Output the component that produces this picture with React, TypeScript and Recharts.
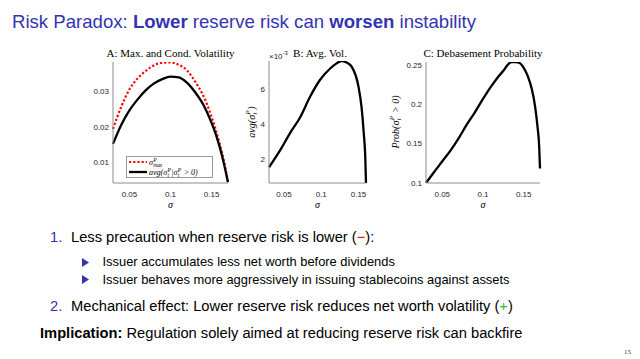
import React from "react";
import { LineChart, Line, XAxis, YAxis } from "recharts";

// panel A: max and conditional volatility
const sigmaGrid = [0.03, 0.04, 0.05, 0.06, 0.07, 0.08, 0.09, 0.1, 0.11, 0.12, 0.13, 0.14, 0.15, 0.155, 0.16, 0.165, 0.17];
const maxVol = [0.0194, 0.0256, 0.0305, 0.0336, 0.0357, 0.0373, 0.038, 0.0381, 0.0374, 0.0359, 0.0327, 0.0287, 0.0228, 0.0192, 0.0151, 0.0105, 0.0044];
const condVol = [0.0152, 0.0205, 0.0246, 0.0277, 0.0303, 0.0322, 0.0334, 0.0341, 0.0339, 0.0324, 0.0297, 0.0262, 0.0211, 0.018, 0.0142, 0.0097, 0.0044];
// panel B, in units of 1e-3
const sigmaAvg = [0.03, 0.045, 0.058, 0.072, 0.085, 0.098, 0.112, 0.12, 0.127, 0.134, 0.141, 0.15, 0.154, 0.157, 0.159, 0.16];
const avgVol = [1.55, 2.53, 3.49, 4.43, 5.58, 6.53, 7.2, 7.48, 7.63, 7.55, 7.29, 6.15, 5.0, 3.5, 2.15, 0.65];
// panel C
const sigmaProb = [0.03, 0.04, 0.05, 0.06, 0.07, 0.08, 0.09, 0.1, 0.11, 0.12, 0.125, 0.13, 0.135, 0.14, 0.145, 0.15, 0.155, 0.16, 0.164, 0.167, 0.169, 0.17];
const debaseProb = [0.1, 0.114, 0.1275, 0.141, 0.1566, 0.174, 0.1897, 0.2066, 0.2225, 0.2365, 0.2423, 0.2495, 0.2535, 0.2533, 0.2522, 0.246, 0.2355, 0.2188, 0.197, 0.171, 0.146, 0.1184];

const sigmaTicks = [0.05, 0.1, 0.15];
const volTicks = [0.01, 0.02, 0.03];
const avgTicks = [2, 4, 6];
const probTicks = [0.1, 0.15, 0.2, 0.25];

const dataA = sigmaGrid.map((s, i) => ({ s, max: maxVol[i], cond: condVol[i] }));
const dataB = sigmaAvg.map((s, i) => ({ s, avg: avgVol[i] }));
const dataC = sigmaProb.map((s, i) => ({ s, prob: debaseProb[i] }));

const BLUE = "#3333B3";
const SANS = "'Liberation Sans', Arial, sans-serif";
const SERIF = "'Liberation Serif', 'Times New Roman', serif";
const tickStyle = { fontSize: 8, fill: "#262626", fontFamily: SANS };
const AXIS = "#8c8c8c";
const YW = 40;
const PAD = 6;

// sigma with stacked super/subscript, e.g. sigma_t^P
function SubSup({ base, sup, sub }: { base: string; sup: string; sub: string }) {
  const w = Math.max(sup.length, sub.length) * 0.42;
  return (
    <span style={{ whiteSpace: "nowrap" }}>
      {base}
      <span style={{ display: "inline-block", position: "relative", width: `${w + 0.1}em`, height: "1em" }}>
        <span style={{ position: "absolute", left: "0.05em", top: "-0.38em", fontSize: "68%" }}>{sup}</span>
        <span style={{ position: "absolute", left: "0.05em", top: "0.62em", fontSize: "68%" }}>{sub}</span>
      </span>
    </span>
  );
}

function Panel(props: {
  plotLeft: number;
  plotTop: number;
  plotW: number;
  plotH: number;
  xMax: number;
  data: any[];
  yDomain: number[];
  yTicks: number[];
  children: React.ReactNode;
}) {
  const { plotLeft, plotTop, plotW, plotH, xMax, data, yDomain, yTicks, children } = props;
  return (
    <div style={{ position: "absolute", left: plotLeft - YW, top: plotTop - PAD }}>
      <LineChart
        width={YW + plotW + PAD}
        height={PAD + plotH + 22}
        data={data}
        margin={{ top: PAD, right: PAD, bottom: 0, left: 0 }}
      >
        <XAxis
          dataKey="s"
          type="number"
          domain={[0.03, xMax]}
          ticks={sigmaTicks}
          height={22}
          tick={tickStyle}
          tickLine={false}
          axisLine={{ stroke: AXIS }}
          tickFormatter={(v) => String(v)}
        />
        <YAxis
          type="number"
          domain={yDomain}
          ticks={yTicks}
          width={YW}
          tick={tickStyle}
          tickLine={false}
          tickSize={2}
          tickMargin={2}
          axisLine={{ stroke: AXIS }}
          allowDataOverflow
          tickFormatter={(v) => String(v)}
        />
        {children}
      </LineChart>
    </div>
  );
}

const abs = (left: number, top: number, extra: React.CSSProperties = {}): React.CSSProperties => ({
  position: "absolute",
  left,
  top,
  whiteSpace: "nowrap",
  ...extra,
});

function Bullet({ left, top }: { left: number; top: number }) {
  return (
    <svg style={abs(left, top)} width={8} height={9}>
      <polygon points="0,0 7,4.5 0,9" fill={BLUE} />
    </svg>
  );
}

export default function App() {
  return (
    <div style={{ position: "absolute", left: 0, top: 0, width: 640, height: 359, background: "#fff", overflow: "hidden" }}>
      {/* slide title */}
      <div style={abs(12, 10, { fontFamily: SANS, fontSize: 18.6, lineHeight: "24px", color: BLUE })}>
        Risk Paradox: <b>Lower</b> reserve risk can <b>worsen</b> instability
      </div>

      {/* panel A */}
      <div style={abs(170.5, 47, { transform: "translateX(-50%)", fontFamily: SERIF, fontSize: 11, lineHeight: "12px" })}>
        A: Max. and Cond. Volatility
      </div>
      <Panel plotLeft={113} plotTop={62} plotW={115} plotH={121} xMax={0.17} data={dataA} yDomain={[0.0042, 0.0382]} yTicks={volTicks}>
        <Line type="monotone" dataKey="max" stroke="#ff0000" strokeWidth={2.2} strokeDasharray="2.2 2" dot={false} isAnimationActive={false} />
        <Line type="monotone" dataKey="cond" stroke="#000" strokeWidth={2.3} dot={false} isAnimationActive={false} />
      </Panel>
      <div
        style={abs(126, 156, {
          width: 87,
          height: 22,
          boxSizing: "border-box",
          border: "1px solid #9a9a9a",
          background: "#fff",
          fontFamily: SERIF,
          fontStyle: "italic",
          fontSize: 8,
          lineHeight: "10px",
        })}
      >
        <svg style={abs(2, 3)} width={18} height={4}>
          <line x1={0} y1={2} x2={18} y2={2} stroke="#ff0000" strokeWidth={2.2} strokeDasharray="2.2 2" />
        </svg>
        <div style={abs(22, 0)}>
          <SubSup base="σ" sup="P" sub="max" />
        </div>
        <svg style={abs(2, 13)} width={18} height={4}>
          <line x1={0} y1={2} x2={18} y2={2} stroke="#000" strokeWidth={2.3} />
        </svg>
        <div style={abs(22, 10)}>
          avg(<SubSup base="σ" sup="P" sub="t" />|<SubSup base="σ" sup="P" sub="t" /> &gt; 0)
        </div>
      </div>
      <div style={abs(170.5, 199, { transform: "translateX(-50%)", fontFamily: SERIF, fontStyle: "italic", fontSize: 10, lineHeight: "12px" })}>σ</div>

      {/* panel B */}
      <div style={abs(269, 48, { fontFamily: SANS, fontSize: 8, lineHeight: "10px", color: "#262626" })}>
        ×10<sup style={{ fontSize: 6 }}>-3</sup>
      </div>
      <div style={abs(320, 47, { transform: "translateX(-50%)", fontFamily: SERIF, fontSize: 11, lineHeight: "12px" })}>
        B: Avg. Vol.
      </div>
      <Panel plotLeft={269} plotTop={61} plotW={97} plotH={122} xMax={0.16} data={dataB} yDomain={[0.65, 7.63]} yTicks={avgTicks}>
        <Line type="monotone" dataKey="avg" stroke="#000" strokeWidth={2.3} dot={false} isAnimationActive={false} />
      </Panel>
      <div
        style={abs(251, 122, {
          transform: "translate(-50%, -50%) rotate(-90deg)",
          fontFamily: SERIF,
          fontStyle: "italic",
          fontSize: 10,
          lineHeight: "12px",
        })}
      >
        avg(<SubSup base="σ" sup="P" sub="t" />)
      </div>
      <div style={abs(317.5, 199, { transform: "translateX(-50%)", fontFamily: SERIF, fontStyle: "italic", fontSize: 10, lineHeight: "12px" })}>σ</div>

      {/* panel C */}
      <div style={abs(483, 47, { transform: "translateX(-50%)", fontFamily: SERIF, fontSize: 11, lineHeight: "12px" })}>
        C: Debasement Probability
      </div>
      <Panel plotLeft={426} plotTop={62} plotW={114} plotH={121} xMax={0.17} data={dataC} yDomain={[0.1, 0.2535]} yTicks={probTicks}>
        <Line type="monotone" dataKey="prob" stroke="#000" strokeWidth={2.3} dot={false} isAnimationActive={false} />
      </Panel>
      <div
        style={abs(395, 122, {
          transform: "translate(-50%, -50%) rotate(-90deg)",
          fontFamily: SERIF,
          fontStyle: "italic",
          fontSize: 10,
          lineHeight: "12px",
        })}
      >
        Prob(<SubSup base="σ" sup="P" sub="t" /> &gt; 0)
      </div>
      <div style={abs(483, 199, { transform: "translateX(-50%)", fontFamily: SERIF, fontStyle: "italic", fontSize: 10, lineHeight: "12px" })}>σ</div>

      {/* slide text */}
      <div style={{ fontFamily: SANS, fontSize: 14.7, color: "#000" }}>
        <div style={abs(50, 228, { lineHeight: "18px", color: BLUE })}>1.</div>
        <div style={abs(71, 228, { lineHeight: "18px" })}>
          Less precaution when reserve risk is lower (<span style={{ color: "#e00000" }}>−</span>):
        </div>
        <Bullet left={82} top={257.5} />
        <div style={abs(102.5, 254, { lineHeight: "16px", fontSize: 12.9 })}>Issuer accumulates less net worth before dividends</div>
        <Bullet left={82} top={275} />
        <div style={abs(102.5, 271.5, { lineHeight: "16px", fontSize: 12.9 })}>
          Issuer behaves more aggressively in issuing stablecoins against assets
        </div>
        <div style={abs(50, 297, { lineHeight: "18px", color: BLUE })}>2.</div>
        <div style={abs(71, 297, { lineHeight: "18px" })}>
          Mechanical effect: Lower reserve risk reduces net worth volatility (<span style={{ color: "#33bb33" }}>+</span>)
        </div>
        <div style={abs(40, 324, { lineHeight: "18px" })}>
          <b>Implication:</b> Regulation solely aimed at reducing reserve risk can backfire
        </div>
      </div>
      <div style={abs(624, 348, { fontFamily: SERIF, fontSize: 7, lineHeight: "8px", color: "#333" })}>15</div>
    </div>
  );
}
